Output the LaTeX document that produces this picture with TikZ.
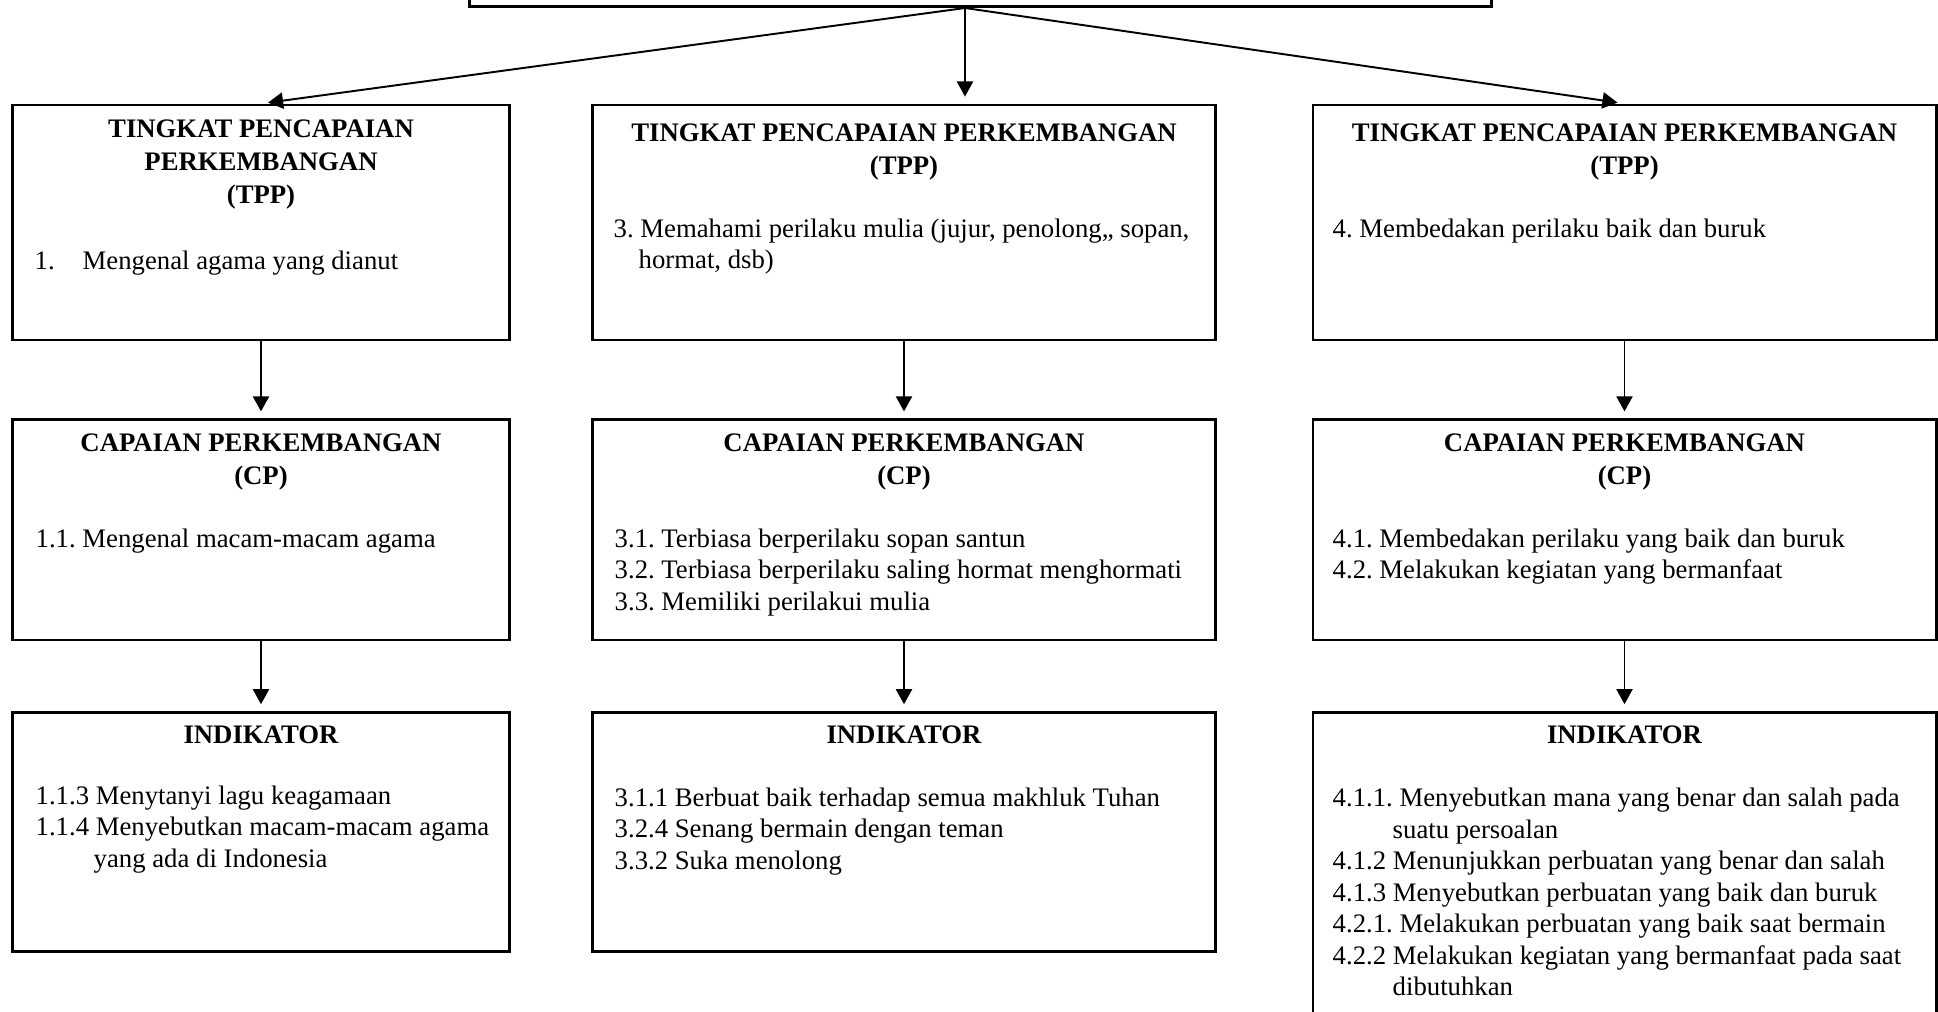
\documentclass[tikz,border=0pt]{standalone}
\usepackage{fontspec}
\setmainfont{Liberation Serif}
\usetikzlibrary{positioning,arrows.meta}

\begin{document}
\begin{tikzpicture}[
  x=0.01cm, y=-0.01cm,
  kotak/.style={rectangle, draw, line width=0.75pt, inner sep=0pt},
  kolomA/.style={minimum width=4.97cm},
  kolomB/.style={minimum width=6.23cm},
  judul/.style={font=\fontsize{7.6}{9.3}\selectfont\bfseries\frenchspacing, align=center, inner sep=0pt, anchor=base},
  isi/.style={font=\fontsize{7.6}{8.96}\selectfont\frenchspacing, align=left, inner sep=0pt, anchor=base west},
  panah/.style={-{Triangle[length=4.3pt,width=4.6pt]}, line width=0.55pt, shorten >=2pt}
]
\useasboundingbox (0,0) rectangle (1938,1012);

% Kotak atas (terpotong)
\node[kotak, minimum width=10.21cm, minimum height=1cm, anchor=south] (atas) at (980.5,8) {};
\coordinate (cabang) at ([xshift=-0.155cm]atas.south);

% Baris TPP
\node[kotak, kolomA, minimum height=2.35cm] (tpp1) at (261,222.5) {};
\node[kotak, kolomB, minimum height=2.35cm] (tpp2) at (904,222.5) {};
\node[kotak, kolomB, minimum height=2.35cm] (tpp3) at (1624.5,222.5) {};

% Baris CP
\node[kotak, kolomA, minimum height=2.2cm, below=0.77cm of tpp1] (cp1) {};
\node[kotak, kolomB, minimum height=2.2cm, below=0.77cm of tpp2] (cp2) {};
\node[kotak, kolomB, minimum height=2.2cm, below=0.77cm of tpp3] (cp3) {};

% Baris indikator
\node[kotak, kolomA, minimum height=2.39cm, below=0.7cm of cp1] (ind1) {};
\node[kotak, kolomB, minimum height=2.39cm, below=0.7cm of cp2] (ind2) {};
\node[kotak, kolomB, minimum height=3.3cm, below=0.7cm of cp3] (ind3) {};

% Teks TPP (posisi = baris terakhir)
\node[judul] (tpp1j) at (261,203.4) {TINGKAT PENCAPAIAN\\PERKEMBANGAN\\(TPP)};
\node[judul] (tpp2j) at (904,174.7) {TINGKAT PENCAPAIAN PERKEMBANGAN\\(TPP)};
\node[judul] (tpp3j) at (1624.5,174.7) {TINGKAT PENCAPAIAN PERKEMBANGAN\\(TPP)};
\node[isi] (tpp1i) at (34,269) {\makebox[0.48cm][l]{1.}Mengenal agama yang dianut};
\node[isi] (tpp2i) at (613,268.6) {3. Memahami perilaku mulia (jujur, penolong,, sopan,\\\hspace*{0.25cm}hormat, dsb)};
\node[isi] (tpp3i) at (1332,237) {4. Membedakan perilaku baik dan buruk};

% Teks CP
\node[judul] (cp1j) at (261,484.7) {CAPAIAN PERKEMBANGAN\\(CP)};
\node[judul] (cp2j) at (904,484.7) {CAPAIAN PERKEMBANGAN\\(CP)};
\node[judul] (cp3j) at (1624.5,484.7) {CAPAIAN PERKEMBANGAN\\(CP)};
\node[isi] (cp1i) at (35,547) {1.1. Mengenal macam-macam agama};
\node[isi] (cp2i) at (614,610.2) {3.1. Terbiasa berperilaku sopan santun\\3.2. Terbiasa berperilaku saling hormat menghormati\\3.3. Memiliki perilakui mulia};
\node[isi] (cp3i) at (1332,578.6) {4.1. Membedakan perilaku yang baik dan buruk\\4.2. Melakukan kegiatan yang bermanfaat};

% Teks indikator
\node[judul] (ind1j) at (261,743) {INDIKATOR};
\node[judul] (ind2j) at (904,743) {INDIKATOR};
\node[judul] (ind3j) at (1624.5,743) {INDIKATOR};
\node[isi] (ind1i) at (35,867.2) {1.1.3 Menytanyi lagu keagamaan\\1.1.4 Menyebutkan macam-macam agama\\\hspace*{0.58cm}yang ada di Indonesia};
\node[isi] (ind2i) at (614,869.2) {3.1.1 Berbuat baik terhadap semua makhluk Tuhan\\3.2.4 Senang bermain dengan teman\\3.3.2 Suka menolong};
\node[isi] (ind3i) at (1332,995.6) {4.1.1. Menyebutkan mana yang benar dan salah pada\\\hspace*{0.6cm}suatu persoalan\\4.1.2 Menunjukkan perbuatan yang benar dan salah\\4.1.3 Menyebutkan perbuatan yang baik dan buruk\\4.2.1. Melakukan perbuatan yang baik saat bermain\\4.2.2 Melakukan kegiatan yang bermanfaat pada saat\\\hspace*{0.6cm}dibutuhkan};

% Panah
\draw[panah] (cabang) -- (tpp1.north);
\draw[panah] (cabang) -- (cabang |- tpp2.north);
\draw[panah] (cabang) -- (tpp3.north);
\foreach \i in {1,2,3} {
  \draw[panah] (tpp\i) -- (cp\i);
  \draw[panah] (cp\i) -- (ind\i);
}

\end{tikzpicture}
\end{document}
